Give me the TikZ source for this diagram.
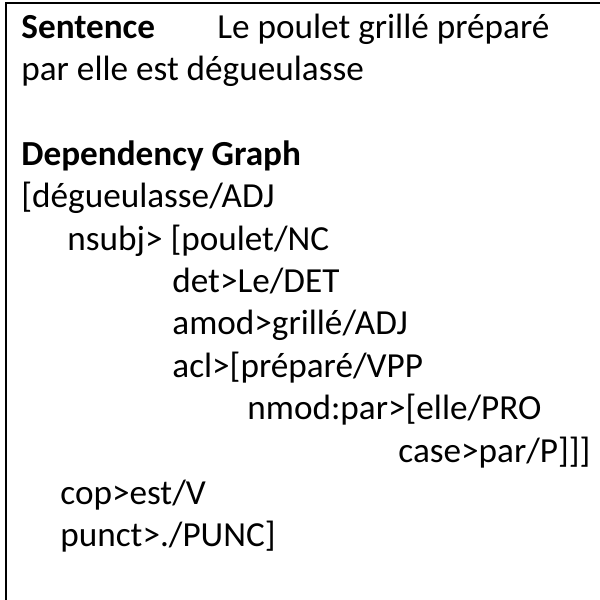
\documentclass[tikz,border=0pt]{standalone}
\usepackage{fontspec}
\setmainfont{Carlito}

\begin{document}
\begin{tikzpicture}[x=0.5pt,y=-0.5pt,every node/.style={inner sep=0pt,anchor=base west,
            font=\fontsize{17.6}{21}\selectfont},head/.style={font=\fontsize{17.6}{21}\selectfont\bfseries}]
            \useasboundingbox(0,0)rectangle(600,600);
            \clip(0,0)rectangle(600,600);
            \draw[line width=1pt](6,3)rectangle(620,620);
            \node[head](sent)at(21,38){Sentence};
            \node(senttext)at(217,38){Le poulet grillé préparé};
            \node(sentcont)at(21,80.4){par elle est dégueulasse};
            \node[head](graph)at(21,165.2){Dependency Graph};
            \node(root)at(21,207.6){[dégueulasse/ADJ};
            \node(nsubj)at(67,250){nsubj> [poulet/NC};
            \node(det)at(172,292.4){det>Le/DET};
            \node(amod)at(172,334.8){amod>grillé/ADJ};
            \node(acl)at(172,377.2){acl>[préparé/VPP};
            \node(nmod)at(247,419.6){nmod:par>[elle/PRO};
            \node(case)at(398,462){case>par/P]]]};
            \node(cop)at(60,504.4){cop>est/V};
            \node(punct)at(60,546.8){punct>./PUNC]};
          \end{tikzpicture}
\end{document}
